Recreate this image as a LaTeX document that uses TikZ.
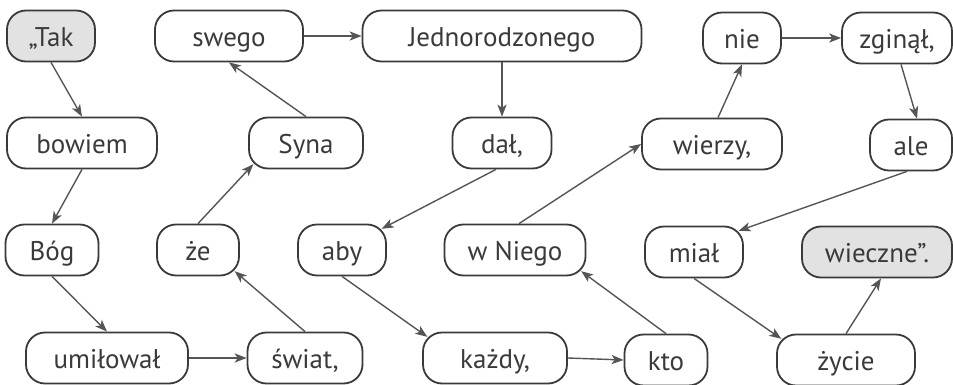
\documentclass[tikz,border=0pt]{standalone}
\usepackage{fontspec}
\setmainfont{PT Sans}
\usetikzlibrary{arrows.meta}
\definecolor{boxline}{HTML}{3A3A3A}
\definecolor{arrline}{HTML}{555555}
\definecolor{boxfill}{HTML}{E2E2E2}

\begin{document}
\begin{tikzpicture}[
    x=0.5pt, y=-0.5pt,
    word/.style={%
      draw=boxline,
      line width=0.9pt,
      rectangle,
      rounded corners=9.5pt,
      minimum height=25.5pt,
      inner sep=0pt,
      text height=11.4pt,
      text depth=0.6pt,
      text=boxline,
      font=\fontsize{13.5pt}{16pt}\selectfont,
    },
    first/.style={word, fill=boxfill},
    arr/.style={%
      draw=arrline,
      line width=0.7pt,
      -{Stealth[length=6pt,width=4.6pt,inset=1.6pt]},
    },
  ]
    \useasboundingbox (0,0) rectangle (953,385);

    % first row
    \node [first, minimum width=44pt] (tak) at (51,36) {„Tak};
    \node [word, minimum width=74pt] (swego) at (229,36) {swego};
    \node [word, minimum width=139.5pt] (jedno) at (502,36) {Jednorodzonego};
    \node [word, minimum width=39pt] (nie) at (742,38) {nie};
    \node [word, minimum width=55pt] (zginal) at (897,38) {zginął,};

    % second row
    \node [word, minimum width=75pt] (bowiem) at (82,143) {bowiem};
    \node [word, minimum width=57pt] (syna) at (306,143) {Syna};
    \node [word, minimum width=49.5pt] (dal) at (502,143) {dał,};
    \node [word, minimum width=70pt] (wierzy) at (712,144) {wierzy,};
    \node [word, minimum width=41pt] (ale) at (911,145) {ale};

    % third row
    \node [word, minimum width=46.5pt] (bog) at (52,250) {Bóg};
    \node [word, minimum width=41pt] (ze) at (198,250) {że};
    \node [word, minimum width=44pt] (aby) at (342,250) {aby};
    \node [word, minimum width=70.5pt] (wniego) at (515,250) {w Niego};
    \node [word, minimum width=49pt] (mial) at (694,252) {miał};
    \node [first, minimum width=75pt] (wieczne) at (877,252) {wieczne”.};

    % fourth row
    \node [word, minimum width=81pt] (umilowal) at (107,358) {umiłował};
    \node [word, minimum width=57.5pt] (swiat) at (305,358) {świat,};
    \node [word, minimum width=72pt] (kazdy) at (495,358) {każdy,};
    \node [word, minimum width=41.5pt] (kto) at (666,360) {kto};
    \node [word, minimum width=69pt] (zycie) at (846,360) {życie};

    \draw [arr] (tak.south) -- (bowiem.north);
    \draw [arr] (bowiem.south) -- (bog.north);
    \draw [arr] (bog.south) -- (umilowal.north);
    \draw [arr] (umilowal.east) -- (swiat.west);
    \draw [arr] (swiat.north) -- ([shift={(-2.6pt,2.6pt)}]ze.south east);
    \draw [arr] (ze.north) -- ([shift={(2.6pt,2.6pt)}]syna.south west);
    \draw [arr] (syna.north) -- (swego.south);
    \draw [arr] (swego.east) -- (jedno.west);
    \draw [arr] (jedno.south) -- (dal.north);
    \draw [arr] ([xshift=-3pt]dal.south) -- ([shift={(-2.6pt,-2.6pt)}]aby.north east);
    \draw [arr] (aby.south) -- ([shift={(2.6pt,-2.6pt)}]kazdy.north west);
    \draw [arr] (kazdy.east) -- (kto.west);
    \draw [arr] (kto.north) -- ([shift={(-2.6pt,2.6pt)}]wniego.south east);
    \draw [arr] ([xshift=2pt]wniego.north) -- (wierzy.west);
    \draw [arr] ([xshift=3pt]wierzy.north) -- (nie.south);
    \draw [arr] (nie.east) -- (zginal.west);
    \draw [arr] ([xshift=2pt]zginal.south) -- ([xshift=3pt]ale.north);
    \draw [arr] ([xshift=-2pt]ale.south) -- ([shift={(-2.6pt,-2.6pt)}]mial.north east);
    \draw [arr] (mial.south) -- ([shift={(2.6pt,-2.6pt)}]zycie.north west);
    \draw [arr] (zycie.north) -- ([xshift=2pt]wieczne.south);
\end{tikzpicture}
\end{document}
